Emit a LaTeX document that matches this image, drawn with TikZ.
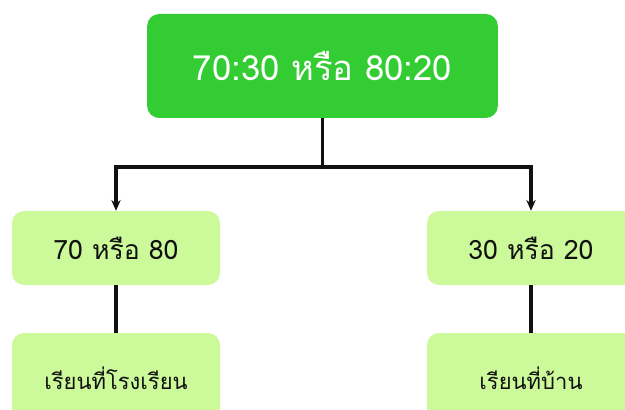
\documentclass[tikz,border=0pt]{standalone}
\usepackage{fontspec}
\newfontfamily\thaifont[Script=Thai]{Loma}
\usetikzlibrary{positioning, arrows.meta}
\definecolor{topgreen}{HTML}{33CC33}
\definecolor{leaf}{HTML}{CCFA9A}
\definecolor{ink}{HTML}{111111}

\begin{document}
\begin{tikzpicture}[x=0.75pt, y=-0.75pt, font=\thaifont,
    rootbox/.style={fill=topgreen, rounded corners=9pt, minimum width=263pt, minimum height=78pt, text=white, font=\thaifont\fontsize{26}{31}\selectfont},
    leafbox/.style={fill=leaf, rounded corners=9pt, minimum width=156pt, minimum height=55.5pt, text=ink, font=\thaifont\fontsize{20}{24}\selectfont},
    wire/.style={line width=2.3pt, ink}]

  \useasboundingbox (0,0) rectangle (625,410);
  \clip (0,0) rectangle (625,410);

  % Root ratio box.
  \node[rootbox] (root) at (322.5,66) {70:30 หรือ 80:20};

  % Ratio branches.
  \node[leafbox] (share1) at (116,248) {70 หรือ 80};
  \node[leafbox] (share2) at (531,248) {30 หรือ 20};

  % Where each part is studied.
  \node[leafbox, minimum height=67.5pt, font=\thaifont\fontsize{16.5}{20}\selectfont] (place1) at (116,378) {เรียนที่โรงเรียน};
  \node[leafbox, minimum height=67.5pt, font=\thaifont\fontsize{16.5}{20}\selectfont] (place2) at (531,378) {เรียนที่บ้าน};

  % Connectors.
  \coordinate (split) at (322.5,167);
  \draw[wire] (root.south) -- (split);
  \draw[wire, -{Stealth[length=8pt, width=7pt]}] (split) -| (share1.north);
  \draw[wire, -{Stealth[length=8pt, width=7pt]}] (split) -| (share2.north);
  \draw[wire] (share1) -- (place1);
  \draw[wire] (share2) -- (place2);
\end{tikzpicture}
\end{document}
